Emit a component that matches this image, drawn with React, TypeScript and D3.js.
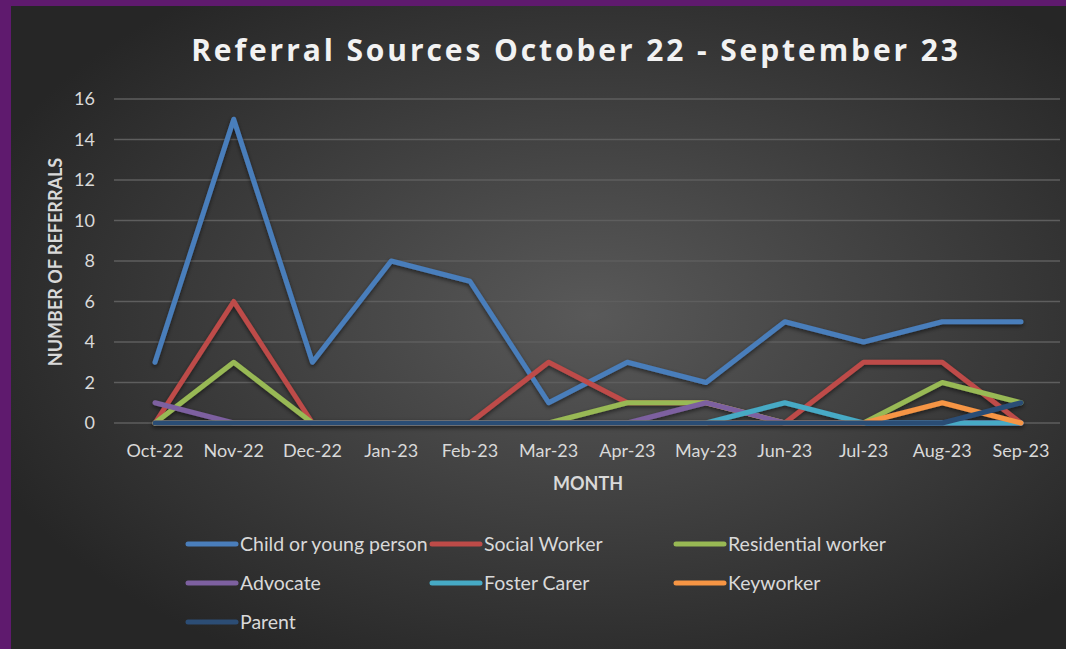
import React from "react";
import * as d3 from "d3";

const months = ["Oct-22", "Nov-22", "Dec-22", "Jan-23", "Feb-23", "Mar-23", "Apr-23", "May-23", "Jun-23", "Jul-23", "Aug-23", "Sep-23"];
const childYoung = [3, 15, 3, 8, 7, 1, 3, 2, 5, 4, 5, 5];
const socialWorker = [0, 6, 0, 0, 0, 3, 1, 1, 0, 3, 3, 0];
const residential = [0, 3, 0, 0, 0, 0, 1, 1, 0, 0, 2, 1];
const advocate = [1, 0, 0, 0, 0, 0, 0, 1, 0, 0, 0, 0];
const fosterCarer = [0, 0, 0, 0, 0, 0, 0, 0, 1, 0, 0, 0];
const keyworker = [0, 0, 0, 0, 0, 0, 0, 0, 0, 0, 1, 0];
const parent = [0, 0, 0, 0, 0, 0, 0, 0, 0, 0, 0, 1];
const yTicks = [0, 2, 4, 6, 8, 10, 12, 14, 16];

const series = [
  { name: "Child or young person", values: childYoung, color: "#4a7ebb" },
  { name: "Social Worker", values: socialWorker, color: "#be4b48" },
  { name: "Residential worker", values: residential, color: "#98b954" },
  { name: "Advocate", values: advocate, color: "#7d60a0" },
  { name: "Foster Carer", values: fosterCarer, color: "#46aac5" },
  { name: "Keyworker", values: keyworker, color: "#f69544" },
  { name: "Parent", values: parent, color: "#2c4d75" },
];

const W = 1066;
const H = 649;
const font = "Lato, 'Open Sans', sans-serif";

export default function App() {
  const x = d3.scalePoint<string>().domain(months).range([155, 1021]);
  const y = d3.scaleLinear().domain([0, 16]).range([423, 99]);
  const line = d3
    .line<number>()
    .x((_, i) => x(months[i]) as number)
    .y((d) => y(d));

  const legendCols = [188, 432, 676];
  const legendRows = [544, 583, 622];

  return (
    <svg width={W} height={H} style={{ position: "absolute", left: 0, top: 0 }}>
      <defs>
        <radialGradient id="bg" cx="0.55" cy="0.48" r="0.62">
          <stop offset="0" stopColor="#595959" />
          <stop offset="1" stopColor="#262626" />
        </radialGradient>
        <filter id="shadow" x="-10%" y="-10%" width="120%" height="130%">
          <feDropShadow dx="0" dy="2" stdDeviation="2" floodColor="#000" floodOpacity="0.55" />
        </filter>
      </defs>
      <rect x={0} y={0} width={W} height={H} fill="#5f1a6e" />
      <rect x={11} y={6} width={W - 11} height={H - 6} fill="url(#bg)" />

      <text
        x={576}
        y={61}
        textAnchor="middle"
        fill="#f2f2f2"
        fontFamily="'Open Sans', sans-serif"
        fontWeight="bold"
        fontSize={30}
        letterSpacing={2.9}
      >
        Referral Sources October 22 - September 23
      </text>

      {yTicks.map((t) => (
        <g key={t}>
          <line x1={114} x2={1060} y1={y(t)} y2={y(t)} stroke="#5e5e5e" strokeWidth={1.5} />
          <text x={95} y={y(t) + 6} textAnchor="end" fill="#d9d9d9" fontFamily={font} fontSize={18}>
            {t}
          </text>
        </g>
      ))}

      {months.map((m) => (
        <text key={m} x={x(m)} y={457} textAnchor="middle" fill="#d9d9d9" fontFamily={font} fontSize={18}>
          {m}
        </text>
      ))}

      <text x={588} y={490} textAnchor="middle" fill="#d9d9d9" fontFamily={font} fontWeight="bold" fontSize={18}>
        MONTH
      </text>
      <text
        transform="translate(62,262) rotate(-90)"
        textAnchor="middle"
        fill="#d9d9d9"
        fontFamily={font}
        fontWeight="bold"
        fontSize={18}
      >
        NUMBER OF REFERRALS
      </text>

      <g filter="url(#shadow)">
        {series.map((s) => (
          <path
            key={s.name}
            d={line(s.values) || ""}
            fill="none"
            stroke={s.color}
            strokeWidth={5}
            strokeLinecap="round"
            strokeLinejoin="round"
          />
        ))}
      </g>

      {series.map((s, i) => {
        const lx = legendCols[i % 3];
        const ly = legendRows[Math.floor(i / 3)];
        return (
          <g key={s.name}>
            <line x1={lx} x2={lx + 48} y1={ly} y2={ly} stroke={s.color} strokeWidth={5} strokeLinecap="round" />
            <text x={lx + 52} y={ly + 7} fill="#d9d9d9" fontFamily={font} fontSize={19.5}>
              {s.name}
            </text>
          </g>
        );
      })}
    </svg>
  );
}
